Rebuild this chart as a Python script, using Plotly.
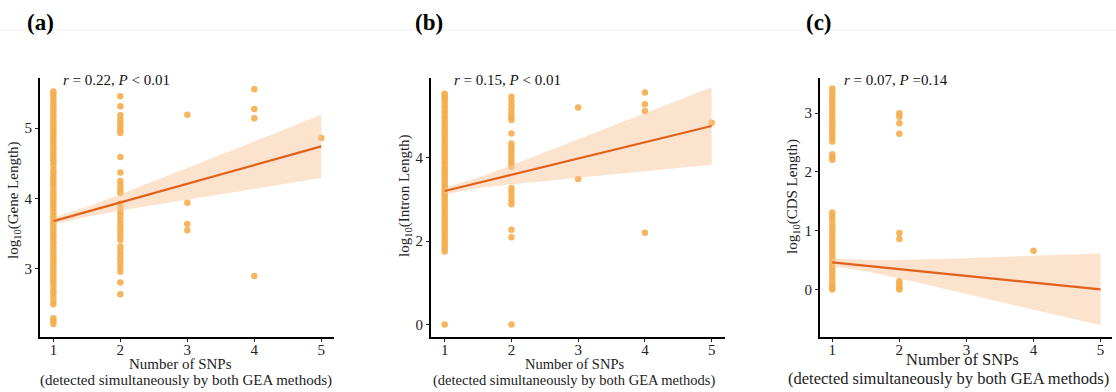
import plotly.graph_objects as go

# ---------------- data ----------------
# Panel (a): log10(Gene Length)
a_x1 = [2.22, 2.26, 2.30, 2.50, 2.55, 2.61, 2.66, 2.70, 2.76, 2.81, 2.85, 2.90, 2.94, 2.99, 3.04, 3.08,
        3.13, 3.17, 3.22, 3.27, 3.31, 3.36, 3.40, 3.45, 3.49, 3.54, 3.58, 3.63, 3.67, 3.72, 3.76, 3.81,
        3.86, 3.90, 3.95, 3.99, 4.04, 4.08, 4.13, 4.18, 4.22, 4.27, 4.31, 4.36, 4.40, 4.47, 4.52, 4.56,
        4.61, 4.65, 4.70, 4.74, 4.79, 4.83, 4.88, 4.92, 4.97, 5.01, 5.06, 5.10, 5.15, 5.19, 5.24, 5.28,
        5.33, 5.38, 5.43, 5.48, 5.52]
a_x2 = [5.45, 5.31, 5.18, 5.12, 5.07, 5.02, 4.97, 4.93, 4.59, 4.37, 4.25, 4.19, 4.13, 4.08, 3.93, 3.87,
        3.81, 3.76, 3.70, 3.64, 3.58, 3.53, 3.47, 3.41, 3.32, 3.26, 3.20, 3.14, 3.08, 3.02, 2.96, 2.81, 2.64]
a_x3 = [5.19, 3.94, 3.64, 3.55]
a_x4 = [5.55, 5.27, 5.14, 2.90]
a_x5 = [4.86]

# Panel (b): log10(Intron Length)
b_x1 = [0.0, 1.75, 1.82, 1.90, 1.97, 2.05, 2.12, 2.20, 2.27, 2.35, 2.42, 2.50, 2.57, 2.65, 2.72, 2.80,
        2.87, 2.95, 3.02, 3.10, 3.17, 3.25, 3.32, 3.40, 3.47, 3.55, 3.62, 3.70, 3.77, 3.85, 3.92, 4.00,
        4.07, 4.15, 4.22, 4.30, 4.37, 4.45, 4.52, 4.60, 4.67, 4.75, 4.82, 4.90, 4.97, 5.05, 5.12, 5.20,
        5.27, 5.35, 5.42, 5.48, 5.53]
b_x2 = [5.46, 5.36, 5.26, 5.16, 5.06, 4.97, 4.90, 4.58, 4.34, 4.26, 4.18, 4.10, 4.02, 3.94, 3.86, 3.78,
        3.27, 3.18, 3.08, 2.98, 2.88, 2.27, 2.09, 0.0]
b_x3 = [5.20, 3.49]
b_x4 = [5.56, 5.28, 5.12, 2.20]
b_x5 = [4.84]

# Panel (c): log10(CDS Length)
c_x1 = [3.42, 3.36, 3.30, 3.24, 3.18, 3.12, 3.06, 3.00, 2.94, 2.88, 2.82, 2.76, 2.70, 2.64, 2.58, 2.52,
        2.30, 2.25, 2.21, 1.31, 1.25, 1.19, 1.12, 1.06, 1.00, 0.93, 0.87, 0.80, 0.74, 0.68, 0.62, 0.56,
        0.50, 0.44, 0.38, 0.32, 0.26, 0.20, 0.14, 0.08, 0.03, 0.0]
c_x2 = [3.00, 2.94, 2.83, 2.65, 0.96, 0.86, 0.14, 0.10, 0.06, 0.02, 0.0]
c_x4 = [0.66]

# Regression lines and confidence bands
fit_x = [1, 5]
a_fit = [3.68, 4.74]
b_fit = [3.20, 4.76]
c_fit = [0.46, 0.00]

band_x = [1, 1.5, 2, 3, 4, 5]
a_lo = [3.63, 3.74, 3.83, 3.99, 4.14, 4.29]
a_hi = [3.73, 3.88, 4.06, 4.43, 4.81, 5.19]
b_lo = [3.12, 3.27, 3.36, 3.52, 3.68, 3.83]
b_hi = [3.28, 3.52, 3.82, 4.44, 5.06, 5.69]
c_lo = [0.39, 0.31, 0.19, -0.07, -0.345, -0.61]
c_hi = [0.53, 0.50, 0.50, 0.53, 0.575, 0.61]

x_ticks = [1, 2, 3, 4, 5]
a_yticks = [3, 4, 5]
b_yticks = [0, 2, 4]
c_yticks = [0, 1, 2, 3]

labels = ["(a)", "(b)", "(c)"]
stats = ["<i>r</i> = 0.22, <i>P</i> < 0.01", "<i>r</i> = 0.15, <i>P</i> < 0.01", "<i>r</i> = 0.07, <i>P</i> =0.14"]
ytitles = ["log<sub>10</sub>(Gene Length)", "log<sub>10</sub>(Intron Length)", "log<sub>10</sub>(CDS Length)"]
xtitle1 = "Number of SNPs"
xtitle2 = "(detected simultaneously by both GEA methods)"

# ---------------- style ----------------
W, H = 1116, 392
FONT = "Liberation Serif, Times New Roman, serif"
PT = "#F5AD4C"
LINE = "#E3601B"
BAND = "rgba(249,200,155,0.5)"

def px(x):
    return x / W

def py(y):
    return 1 - y / H

fig = go.Figure()

panels = [
    dict(groups=[(1, a_x1), (2, a_x2), (3, a_x3), (4, a_x4), (5, a_x5)], fit=a_fit, lo=a_lo, hi=a_hi,
         xdom=(40, 334), xr=[0.80, 5.19], yr=[2.035, 5.71], yt=a_yticks),
    dict(groups=[(1, b_x1), (2, b_x2), (3, b_x3), (4, b_x4), (5, b_x5)], fit=b_fit, lo=b_lo, hi=b_hi,
         xdom=(431, 725), xr=[0.795, 5.20], yr=[-0.30, 5.91], yt=b_yticks),
    dict(groups=[(1, c_x1), (2, c_x2), (4, c_x4)], fit=c_fit, lo=c_lo, hi=c_hi,
         xdom=(820, 1112), xr=[0.817, 5.17], yr=[-0.81, 3.60], yt=c_yticks),
]

for i, p in enumerate(panels):
    sfx = "" if i == 0 else str(i + 1)
    xa, ya = "x" + sfx, "y" + sfx
    xs, ys = [], []
    for xv, vals in p["groups"]:
        xs += [xv] * len(vals)
        ys += vals
    fig.add_trace(go.Scatter(x=xs, y=ys, mode="markers", xaxis=xa, yaxis=ya,
                             marker=dict(size=6.5, color=PT, opacity=0.9, line=dict(width=0)),
                             showlegend=False, hoverinfo="skip"))
    fig.add_trace(go.Scatter(x=band_x + band_x[::-1], y=p["hi"] + p["lo"][::-1], xaxis=xa, yaxis=ya,
                             mode="lines", fill="toself", fillcolor=BAND, line=dict(width=0),
                             showlegend=False, hoverinfo="skip"))
    fig.add_trace(go.Scatter(x=fit_x, y=p["fit"], mode="lines", xaxis=xa, yaxis=ya,
                             line=dict(color=LINE, width=2.2), showlegend=False, hoverinfo="skip"))
    axis_common = dict(showgrid=False, zeroline=False, showline=True, linecolor="black", linewidth=2,
                       ticks="outside", ticklen=3, tickwidth=1.2, tickcolor="#222",
                       tickfont=dict(family=FONT, size=15, color="#222"))
    fig.layout["xaxis" + sfx] = dict(domain=[px(p["xdom"][0]), px(p["xdom"][1])], range=p["xr"],
                                     anchor=ya, tickvals=x_ticks, ticktext=[str(t) for t in x_ticks],
                                     ticklabelstandoff=-5, **axis_common)
    fig.layout["yaxis" + sfx] = dict(domain=[py(337), py(78)], range=p["yr"], anchor=xa,
                                     tickvals=p["yt"], ticktext=[str(t) for t in p["yt"]], **axis_common)

ann = []
# panel labels
for lab, x in zip(labels, [40, 429, 819]):
    ann.append(dict(text="<b>%s</b>" % lab, x=px(x), y=py(22), font=dict(family=FONT, size=23, color="black")))
# stats
for s, x in zip(stats, [116, 507, 896]):
    ann.append(dict(text=s, x=px(x), y=py(80), font=dict(family=FONT, size=15, color="#111")))
# y titles
for t, x, yc in zip(ytitles, [14, 405, 793], [200, 196, 197]):
    ann.append(dict(text=t, x=px(x), y=py(yc), textangle=-90, font=dict(family=FONT, size=15, color="#222")))
# x titles
for x1, y1, x2, y2, fs in [(180, 364, 186, 380, 15), (574, 364, 574, 380, 14.5), (962, 359, 948, 378, 16.5)]:
    ann.append(dict(text=xtitle1, x=px(x1), y=py(y1), font=dict(family=FONT, size=fs, color="#222")))
    ann.append(dict(text=xtitle2, x=px(x2), y=py(y2), font=dict(family=FONT, size=fs, color="#222")))

for a in ann:
    a.update(xref="paper", yref="paper", showarrow=False, xanchor="center", yanchor="middle")

fig.update_layout(
    width=W, height=H, margin=dict(l=0, r=0, t=0, b=0),
    paper_bgcolor="white", plot_bgcolor="white",
    annotations=ann,
    shapes=[dict(type="line", xref="paper", yref="paper", x0=0, x1=1, y0=py(30), y1=py(30),
                 line=dict(color="#f0f0f0", width=1))],
)

fig.write_html("out.html")
